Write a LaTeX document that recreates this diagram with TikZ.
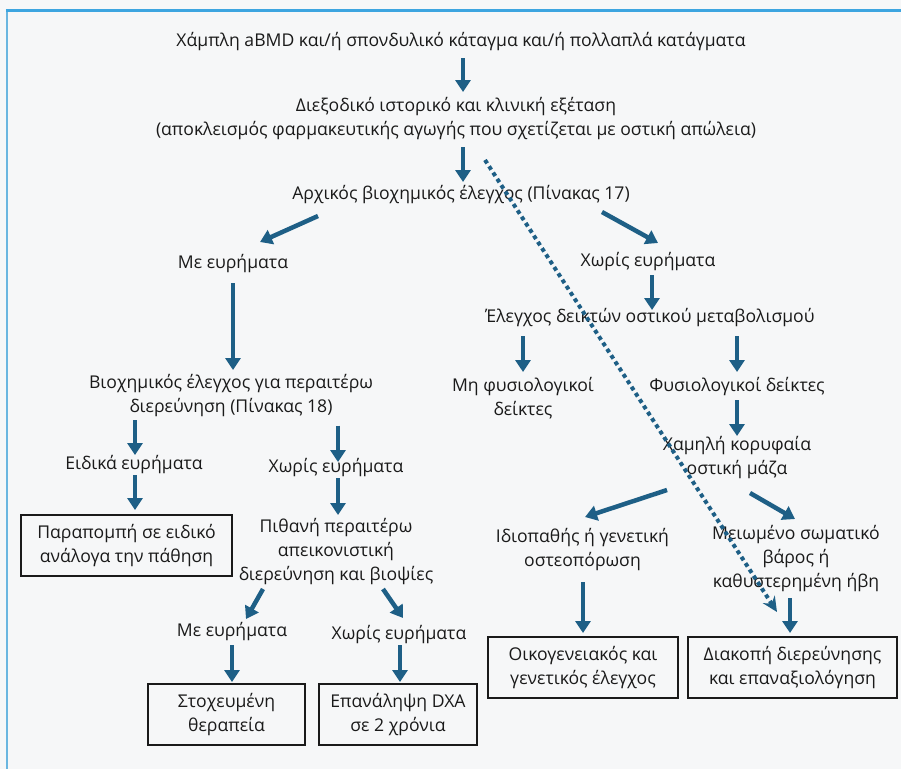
\documentclass[tikz,border=0pt]{standalone}
\usepackage{fontspec}
\setmainfont{Open Sans}
\usetikzlibrary{arrows.meta}
\definecolor{arrblue}{HTML}{1E5F86}
\definecolor{frameblue}{HTML}{3DA5E0}
\definecolor{frameblueL}{HTML}{6AB6E0}
\definecolor{bgc}{HTML}{F6F7F8}
\definecolor{txt}{HTML}{1A1A1A}
\tikzset{
  lbl/.style={inner sep=0pt, align=center, text=txt, font=\fontsize{17.6}{24}\selectfont},
  boxn/.style={lbl, draw=txt, line width=1.6pt, fill=bgc},
  arr/.style={arrblue, line width=4.5pt, -{Triangle[length=12pt,width=15pt]}},
  dotarr/.style={arrblue, line width=4pt, dash pattern=on 4pt off 3.5pt, -{Stealth[length=15pt,width=14pt,inset=5pt]}}
}
\begin{document}
\begin{tikzpicture}[x=1pt,y=-1pt]
\useasboundingbox (0,0) rectangle (901,769);
\fill[bgc] (0,0) rectangle (901,769);
\draw[frameblueL, line width=2.5pt] (7,10) -- (7,769);
\draw[frameblue, line width=2.5pt] (5.75,10.5) -- (901,10.5);

% nodes
\node[lbl] (t1) at (461,42) {Χάμπλη aBMD και/ή σπονδυλικό κάταγμα και/ή πολλαπλά κατάγματα};
\node[lbl] (t2) at (456,118.5) {Διεξοδικό ιστορικό και κλινική εξέταση\\(αποκλεισμός φαρμακευτικής αγωγής που σχετίζεται με οστική απώλεια)};
\node[lbl] (t3) at (461,195) {Αρχικός βιοχημικός έλεγχος (Πίνακας 17)};
\node[lbl] (me1) at (233,264) {Με ευρήματα};
\node[lbl] (xe1) at (648,262) {Χωρίς ευρήματα};
\node[lbl] (b18) at (231,395.5) {Βιοχημικός έλεγχος για περαιτέρω\\διερεύνηση (Πίνακας 18)};
\node[lbl] (ei) at (134,465) {Ειδικά ευρήματα};
\node[lbl] (xe2) at (336,468) {Χωρίς ευρήματα};
\node[boxn, minimum width=211pt, minimum height=61pt] (ref) at (126.5,545.5) {Παραπομπή σε ειδικό\\ανάλογα την πάθηση};
\node[lbl] (pith) at (336,552) {Πιθανή περαιτέρω\\απεικονιστική\\διερεύνηση και βιοψίες};
\node[lbl] (me2) at (232,632) {Με ευρήματα};
\node[lbl] (xe3) at (399,635) {Χωρίς ευρήματα};
\node[boxn, minimum width=157pt, minimum height=61pt] (stox) at (226.5,714.5) {Στοχευμένη\\θεραπεία};
\node[boxn, minimum width=158pt, minimum height=61pt] (epan) at (398,714.5) {Επανάληψη DXA\\σε 2 χρόνια};
\node[lbl] (elegx) at (650,318) {Έλεγχος δεικτών οστικού μεταβολισμού};
\node[lbl] (mf) at (523,398.5) {Μη φυσιολογικοί\\δείκτες};
\node[lbl] (fd) at (737,387) {Φυσιολογικοί δείκτες};
\node[lbl] (xk) at (737,458) {Χαμηλή κορυφαία\\οστική μάζα};
\node[lbl] (idio) at (582.5,550) {Ιδιοπαθής ή γενετική\\οστεοπόρωση};
\node[lbl] (meio) at (796,559) {Μειωμένο σωματικό\\βάρος ή\\καθυστερημένη ήβη};
\node[boxn, minimum width=190pt, minimum height=61pt] (oik) at (583,667.5) {Οικογενειακός και\\γενετικός έλεγχος};
\node[boxn, minimum width=209pt, minimum height=61pt] (diak) at (792.5,667.5) {Διακοπή διερεύνησης\\και επαναξιολόγηση};

% dotted connector
\draw[dotarr] ([shift={(29,41.5)}]t2.center) -- ([shift={(-15.5,-55.5)}]diak.center);

% arrows
\draw[arr] ([shift={(2,16)}]t1.center) -- ([shift={(7,-26.5)}]t2.center);
\draw[arr] ([shift={(7,28.5)}]t2.center) -- ([shift={(2,-13)}]t3.center);
\draw[arr] ([shift={(-143,21)}]t3.center) -- ([shift={(27,-22)}]me1.center);
\draw[arr] ([shift={(141,17)}]t3.center) -- ([shift={(10,-19)}]xe1.center);
\draw[arr] ([shift={(0,19)}]me1.center) -- ([shift={(2,-25.5)}]b18.center);
\draw[arr] ([shift={(-96,24.5)}]b18.center) -- ([shift={(1,-10)}]ei.center);
\draw[arr] ([shift={(1,10)}]ei.center) -- ([shift={(8.5,-35.5)}]ref.center);
\draw[arr] ([shift={(107,30)}]b18.center) -- ([shift={(2,-6)}]xe2.center);
\draw[arr] ([shift={(2,10)}]xe2.center) -- ([shift={(2,-37)}]pith.center);
\draw[arr] ([shift={(-73,37)}]pith.center) -- ([shift={(14,-13)}]me2.center);
\draw[arr] ([shift={(47,37)}]pith.center) -- ([shift={(4,-17)}]xe3.center);
\draw[arr] ([shift={(0,13)}]me2.center) -- ([shift={(5.5,-32.5)}]stox.center);
\draw[arr] ([shift={(1,10)}]xe3.center) -- ([shift={(2,-32.5)}]epan.center);
\draw[arr] ([shift={(4,13)}]xe1.center) -- ([shift={(2,-8)}]elegx.center);
\draw[arr] ([shift={(-127,18)}]elegx.center) -- ([shift={(0,-26.5)}]mf.center);
\draw[arr] ([shift={(87,18)}]elegx.center) -- ([shift={(0,-15)}]fd.center);
\draw[arr] ([shift={(0,13)}]fd.center) -- ([shift={(0,-22)}]xk.center);
\draw[arr] ([shift={(-70,32)}]xk.center) -- ([shift={(2.5,-33)}]idio.center);
\draw[arr] ([shift={(13,35)}]xk.center) -- ([shift={(-1,-40)}]meio.center);
\draw[arr] ([shift={(0.5,32)}]idio.center) -- ([shift={(0,-34.5)}]oik.center);
\draw[arr] ([shift={(-6,39)}]meio.center) -- ([shift={(-2.5,-34.5)}]diak.center);
\end{tikzpicture}
\end{document}
